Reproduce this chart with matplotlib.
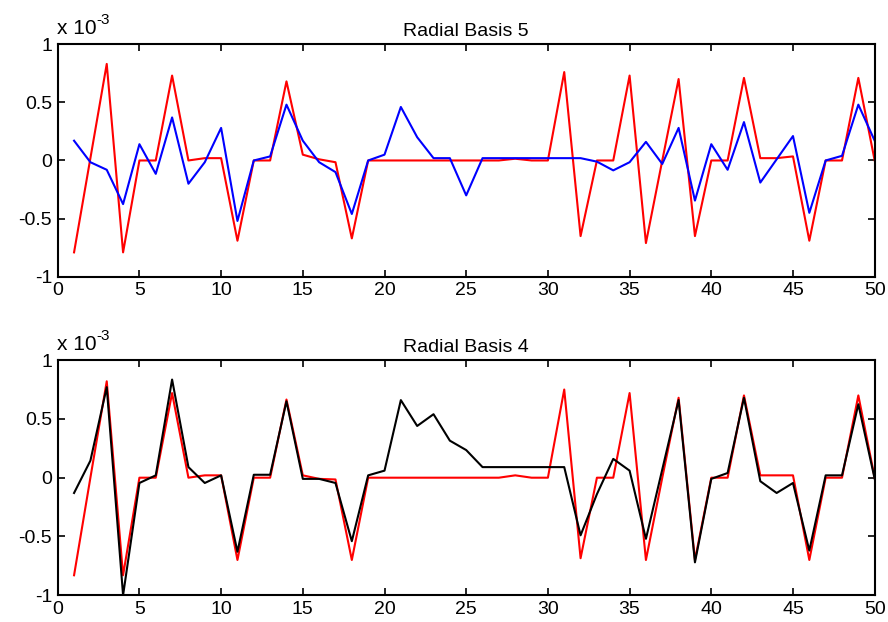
import numpy as np
import matplotlib
matplotlib.use('Agg')
import matplotlib.pyplot as plt

plt.rcParams['font.family'] = ['Liberation Sans', 'DejaVu Sans']

x = np.arange(1, 51)

# Radial Basis 5 (values in units of 1e-3)
top_red = [-0.79, 0.02, 0.83, -0.79, 0.0, 0.0, 0.73, 0.0, 0.02, 0.02,
           -0.69, 0.0, 0.0, 0.68, 0.05, 0.01, -0.015, -0.67, 0.0, 0.0,
           0.0, 0.0, 0.0, 0.0, 0.0, 0.0, 0.0, 0.015, 0.0, 0.0,
           0.76, -0.65, 0.0, 0.0, 0.73, -0.71, 0.0, 0.70, -0.65, 0.0,
           0.0, 0.71, 0.02, 0.02, 0.035, -0.69, 0.0, 0.0, 0.71, 0.0]
top_blue = [0.17, -0.015, -0.08, -0.375, 0.14, -0.115, 0.37, -0.2, -0.015, 0.28,
            -0.52, 0.0, 0.035, 0.48, 0.17, -0.015, -0.1, -0.46, 0.0, 0.05,
            0.46, 0.2, 0.02, 0.02, -0.30, 0.02, 0.02, 0.02, 0.02, 0.02,
            0.02, 0.02, -0.01, -0.085, -0.015, 0.16, -0.03, 0.28, -0.345, 0.14,
            -0.08, 0.33, -0.19, 0.01, 0.21, -0.45, 0.0, 0.04, 0.48, 0.17]

# Radial Basis 4
bot_red = [-0.83, 0.0, 0.82, -0.83, 0.0, 0.0, 0.72, 0.0, 0.02, 0.02,
           -0.70, 0.0, 0.0, 0.665, 0.02, -0.01, -0.015, -0.70, 0.0, 0.0,
           0.0, 0.0, 0.0, 0.0, 0.0, 0.0, 0.0, 0.02, 0.0, 0.0,
           0.75, -0.685, 0.0, 0.0, 0.72, -0.70, 0.0, 0.68, -0.70, 0.0,
           0.0, 0.70, 0.02, 0.02, 0.02, -0.70, 0.0, 0.0, 0.70, 0.0]
bot_black = [-0.13, 0.145, 0.77, -1.0, -0.045, 0.02, 0.835, 0.09, -0.045, 0.02,
             -0.63, 0.025, 0.025, 0.65, -0.01, -0.01, -0.045, -0.54, 0.02, 0.06,
             0.66, 0.44, 0.54, 0.315, 0.235, 0.09, 0.09, 0.09, 0.09, 0.09,
             0.09, -0.49, -0.14, 0.16, 0.06, -0.52, 0.07, 0.66, -0.72, -0.01,
             0.04, 0.68, -0.03, -0.13, -0.045, -0.62, 0.02, 0.02, 0.625, -0.01]

fig = plt.figure(figsize=(8.88, 6.22), dpi=100)
ax1 = fig.add_axes([0.065, 0.555, 0.92, 0.374])
ax2 = fig.add_axes([0.065, 0.043, 0.92, 0.378])


def style(ax, title):
    ax.set_xlim(0, 50)
    ax.set_ylim(-1, 1)
    ax.set_xticks(range(0, 51, 5))
    ax.set_yticks([-1, -0.5, 0, 0.5, 1])
    ax.set_yticklabels(['-1', '-0.5', '0', '0.5', '1'])
    ax.tick_params(direction='in', top=True, right=True, labelsize=14,
                   length=5, width=1.2, pad=4)
    for s in ax.spines.values():
        s.set_linewidth(1.5)
    ax.set_title(title, fontsize=14, pad=6)
    ax.text(-0.001, 1.025, 'x 10', transform=ax.transAxes,
            fontsize=15, ha='left', va='bottom')
    ax.text(0.047, 1.075, '-3', transform=ax.transAxes,
            fontsize=11, ha='left', va='bottom')


ax1.plot(x, top_red, color='red', lw=1.5)
ax1.plot(x, top_blue, color='blue', lw=1.5)
style(ax1, 'Radial Basis 5')

ax2.plot(x, bot_red, color='red', lw=1.5)
ax2.plot(x, bot_black, color='black', lw=1.5)
style(ax2, 'Radial Basis 4')

fig.savefig('out.png', dpi=100)
